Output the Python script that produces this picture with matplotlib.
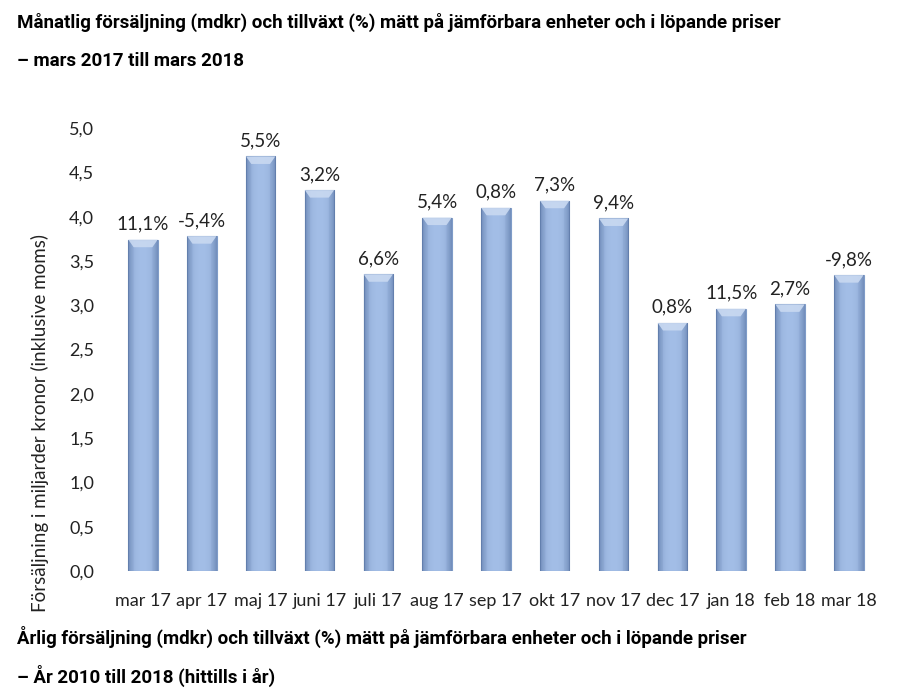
import matplotlib
matplotlib.use("Agg")
import matplotlib.pyplot as plt
import numpy as np
from matplotlib.patches import Polygon

months = ["mar 17", "apr 17", "maj 17", "juni 17", "juli 17", "aug 17", "sep 17",
          "okt 17", "nov 17", "dec 17", "jan 18", "feb 18", "mar 18"]
sales = [3.74, 3.78, 4.68, 4.30, 3.35, 3.99, 4.10, 4.18, 3.98, 2.80, 2.96, 3.01, 3.34]
growth = ["11,1%", "-5,4%", "5,5%", "3,2%", "6,6%", "5,4%", "0,8%",
          "7,3%", "9,4%", "0,8%", "11,5%", "2,7%", "-9,8%"]
yticks = [0.0, 0.5, 1.0, 1.5, 2.0, 2.5, 3.0, 3.5, 4.0, 4.5, 5.0]

narrow = "Roboto"
body = "Lato"

fig = plt.figure(figsize=(8.98, 6.96), dpi=100)
ax = fig.add_axes([0.1265, 0.1796, 0.8515, 0.6364])

x = np.arange(len(months))
bars = ax.bar(x, sales, width=0.5, color="#a2bde6", edgecolor="#7f9cc8", linewidth=0.8, zorder=2)

# horizontal shading overlay clipped to each bar (darker edges, lighter centre)
grad = np.linspace(0, 1, 64)
g = 1 - (np.abs(grad - 0.5) * 2) ** 3
for b in bars:
    x0, w, h = b.get_x(), b.get_width(), b.get_height()
    col = np.zeros((1, 64, 4))
    col[..., :3] = np.array([0.25, 0.36, 0.55])
    col[..., 3] = (1 - g) * 0.45
    im = ax.imshow(col, extent=[x0, x0 + w, 0, h], aspect="auto", zorder=3, interpolation="bilinear")
    im.set_clip_path(b)
    # top bevel trapezoid
    dx, dy = 0.09, 0.085
    bev = Polygon([[x0, h], [x0 + w, h], [x0 + w - dx, h - dy], [x0 + dx, h - dy]],
                  closed=True, facecolor="#c9d9f1", edgecolor="none", alpha=0.9, zorder=4)
    ax.add_patch(bev)
    for side in ([[x0, h], [x0 + dx, h - dy], [x0 + dx, 0], [x0, 0]],
                 [[x0 + w, h], [x0 + w - dx, h - dy], [x0 + w - dx, 0], [x0 + w, 0]]):
        ax.add_patch(Polygon(side, closed=True, facecolor="#5a78a8", edgecolor="none", alpha=0.12, zorder=4))

for xi, v, lab in zip(x, sales, growth):
    ax.text(xi, v + 0.08, lab, ha="center", va="bottom", fontsize=13.5, family=body, color="#222222")

ax.set_ylim(0, 5.0)
ax.set_xlim(-0.5, len(months) - 0.5)
ax.set_yticks(yticks)
ax.set_yticklabels([f"{t:.1f}".replace(".", ",") for t in yticks], family=body, fontsize=13, color="#222222")
ax.set_xticks(x)
ax.set_xticklabels(months, family=body, fontsize=13, color="#222222")
ax.tick_params(length=0, pad=14, axis="y")
ax.tick_params(length=0, pad=16, axis="x")
for s in ax.spines.values():
    s.set_visible(False)

fig.text(0.045, 0.392, "Försäljning i miljarder kronor (inklusive moms)", rotation=90,
         ha="center", va="center", fontsize=13.5, family=body, color="#222222")

fs = 13.5
fig.text(0.019, 0.968, "Månatlig försäljning (mdkr) och tillväxt (%) mätt på jämförbara enheter och i löpande priser",
         ha="left", va="center", fontsize=fs, fontweight="bold", family=narrow, color="black")
fig.text(0.019, 0.913, "– mars 2017 till mars 2018",
         ha="left", va="center", fontsize=fs, fontweight="bold", family=narrow, color="black")
fig.text(0.019, 0.085, "Årlig försäljning (mdkr) och tillväxt (%) mätt på jämförbara enheter och i löpande priser",
         ha="left", va="center", fontsize=fs, fontweight="bold", family=narrow, color="black")
fig.text(0.019, 0.029, "– År 2010 till 2018 (hittills i år)",
         ha="left", va="center", fontsize=fs, fontweight="bold", family=narrow, color="black")

fig.savefig("out.png", dpi=100)
